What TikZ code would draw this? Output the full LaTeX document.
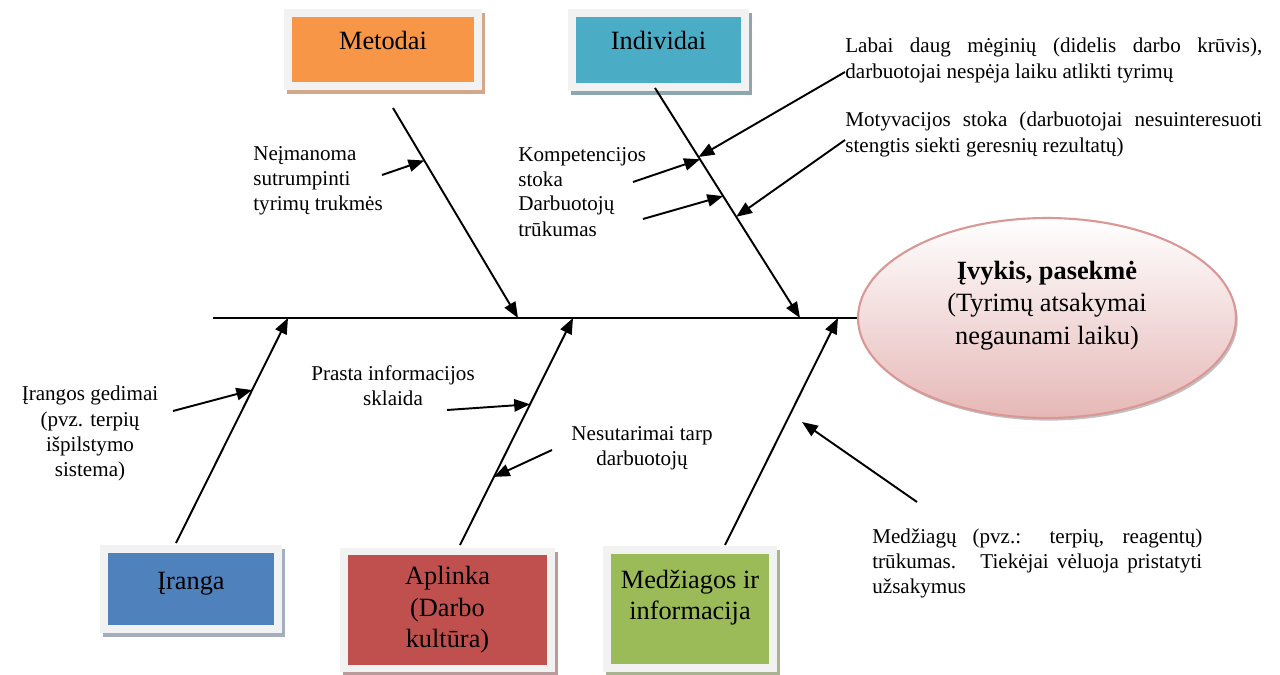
\documentclass[tikz,border=0pt]{standalone}
\usepackage{fontspec}
\setmainfont{Liberation Serif}
\usetikzlibrary{arrows.meta,shapes.geometric,shadows,calc}

\definecolor{framegray}{HTML}{F2F2F2}
\definecolor{metcol}{HTML}{F79646}
\definecolor{metsh}{HTML}{D3A88A}
\definecolor{indcol}{HTML}{4BACC6}
\definecolor{indsh}{HTML}{8DA7AF}
\definecolor{ircol}{HTML}{4F81BD}
\definecolor{irsh}{HTML}{A3AEBE}
\definecolor{apcol}{HTML}{C0504D}
\definecolor{apsh}{HTML}{B89B9A}
\definecolor{medcol}{HTML}{9BBB59}
\definecolor{medsh}{HTML}{A9B38F}
\definecolor{ellpink}{HTML}{E6B8B7}
\definecolor{ellline}{HTML}{D99795}

\begin{document}
\begin{tikzpicture}[x=0.02cm,y=-0.02cm,
	box/.style={draw=framegray,line width=4.5pt,fill=#1,align=center,inner sep=0pt,
		font=\fontsize{15}{18}\selectfont},
	boxshade/.style={drop shadow={shadow xshift=1.8pt,shadow yshift=-2.5pt,
		fill=#1,draw=#1,line width=4.5pt,opacity=1}},
	oneline/.style={text height=11pt,text depth=11pt},
	note/.style={inner sep=0pt,font=\fontsize{12}{14.4}\selectfont},
	spine/.style={line width=0.9pt},
	bone/.style={line width=1.1pt,-{Triangle[length=9pt,width=7pt]}}]
	\useasboundingbox (0,0) rectangle (1280,675);

	\node[box=metcol,boxshade=metsh,oneline,minimum width=3.8cm,minimum height=1.46cm] (metodai) at (383,49.5) {Metodai};
	\node[box=indcol,boxshade=indsh,oneline,minimum width=3.46cm,minimum height=1.48cm] (individai) at (658.5,50) {Individai};
	\node[box=ircol,boxshade=irsh,oneline,minimum width=3.48cm,minimum height=1.6cm] (iranga) at (191,589) {Įranga};
	\node[box=apcol,boxshade=apsh,minimum width=4.14cm,minimum height=2.34cm] (aplinka) at (447.5,610) {Aplinka\\(Darbo\\kultūra)};
	\node[box=medcol,boxshade=medsh,minimum width=3.32cm,minimum height=2.36cm] (medziagos) at (690,609) {Medžiagos ir\\informacija\\[-2pt]\mbox{}};

	\node[ellipse,draw=ellline,line width=1.2pt,top color=white,bottom color=ellpink,
		minimum width=7.56cm,minimum height=4cm,inner sep=0pt,align=center,
		font=\fontsize{15}{18.5}\selectfont,
		drop shadow={shadow xshift=1pt,shadow yshift=-1.5pt,fill=black!40,opacity=.6}]
		(pasekme) at (1047,318) {\textbf{Įvykis, pasekmė}\\(Tyrimų atsakymai\\negaunami laiku)\\[-1pt]\mbox{}};

	\coordinate (tail) at (213,318);
	\draw[spine] (tail) -- (pasekme.west);

	\coordinate (metA) at (393,108);
	\coordinate (metB) at (518,318);
	\coordinate (indA) at (655,88);
	\coordinate (indB) at (800,318);
	\coordinate (irA) at (176,543);
	\coordinate (irB) at (288,318);
	\coordinate (apA) at (460,545);
	\coordinate (apB) at (573,318);
	\coordinate (medA) at (725,545);
	\coordinate (medB) at (838,318);
	\draw[bone] (metA) -- (metB);
	\draw[bone] (indA) -- (indB);
	\draw[bone] (irA) -- (irB);
	\draw[bone] (apA) -- (apB);
	\draw[bone] (medA) -- (medB);

	\node[note,anchor=north west,align=left] (neimanoma) at (253,146) {Neįmanoma\\sutrumpinti\\tyrimų trukmės};
	\node[note,anchor=north west,align=left] (kompetencija) at (518,147) {Kompetencijos\\stoka};
	\node[note,anchor=north west,align=left] (trukumas) at (518,196) {Darbuotojų\\trūkumas};
	\node[note,anchor=north west,text width=8.34cm,align=justify] (daug) at (845,38)
		{Labai daug mėginių (didelis darbo krūvis),\linebreak darbuotojai nespėja laiku atlikti tyrimų};
	\node[note,anchor=north west,text width=8.34cm,align=justify] (motyvacija) at (845,112)
		{Motyvacijos stoka (darbuotojai nesuinteresuoti\linebreak stengtis siekti geresnių rezultatų)};
	\node[note,anchor=north,align=center] (gedimai) at (90,386) {Įrangos gedimai\\(pvz. terpių\\išpilstymo\\sistema)};
	\node[note,anchor=north,align=center] (sklaida) at (393,365) {Prasta informacijos\\sklaida};
	\node[note,anchor=north,align=center] (nesutarimai) at (642,426) {Nesutarimai tarp\\darbuotojų};
	\node[note,anchor=north west,text width=6.6cm,align=justify] (stygius) at (872,528)
		{Medžiagų (pvz.: terpių, reagentų)\linebreak trūkumas.~ Tiekėjai vėluoja pristatyti\linebreak užsakymus};

	\coordinate (s1) at (382,175);
	\coordinate (s2) at (845,72);
	\coordinate (s3) at (633,182);
	\coordinate (s4) at (643,219);
	\coordinate (s5) at (845,140);
	\coordinate (s6) at (173,411);
	\coordinate (s7) at (447,410);
	\coordinate (s8) at (552,450);
	\coordinate (s9) at (917,502);
	\coordinate (t9) at (802,422);
	\draw[bone] (s1) -- ($(metA)!.25!(metB)$);
	\draw[bone] (s2) -- ($(indA)!.30!(indB)$);
	\draw[bone] (s3) -- ($(indA)!.31!(indB)$);
	\draw[bone] (s4) -- ($(indA)!.47!(indB)$);
	\draw[bone] (s5) -- ($(indA)!.56!(indB)$);
	\draw[bone] (s6) -- ($(irA)!.68!(irB)$);
	\draw[bone] (s7) -- ($(apA)!.62!(apB)$);
	\draw[bone] (s8) -- ($(apA)!.30!(apB)$);
	\draw[bone] (s9) -- (t9);
\end{tikzpicture}
\end{document}
